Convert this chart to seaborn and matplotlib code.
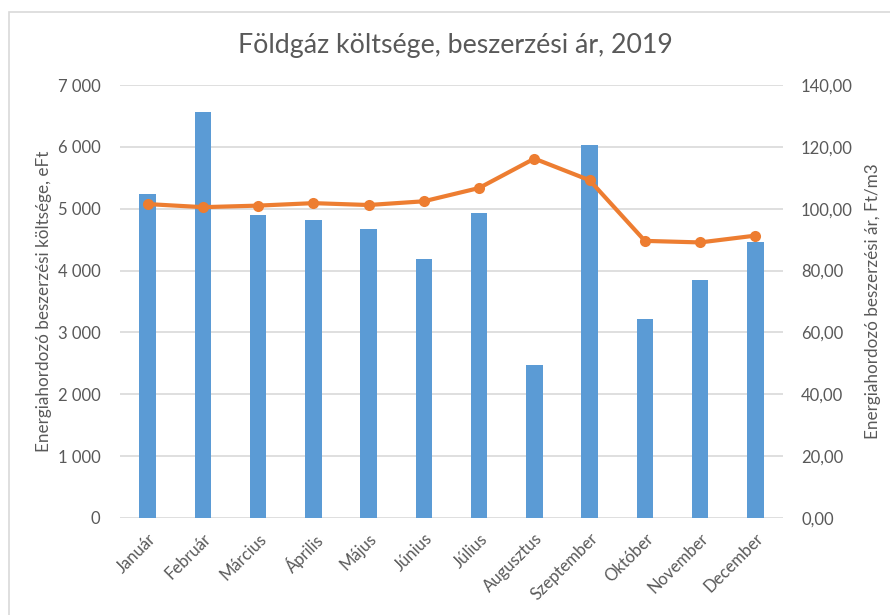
import matplotlib
matplotlib.use("Agg")
import matplotlib.pyplot as plt
from matplotlib.ticker import FuncFormatter, MultipleLocator
from matplotlib.patches import Rectangle
import seaborn as sns
import pandas as pd

months = ["Január", "Február", "Március", "Április", "Május", "Június",
          "Július", "Augusztus", "Szeptember", "Október", "November", "December"]
cost_eft = [5245, 6560, 4900, 4815, 4670, 4180, 4930, 2470, 6030, 3210, 3845, 4455]
price_ft_m3 = [101.5, 100.5, 101.0, 101.8, 101.2, 102.4, 106.7, 116.2, 109.2, 89.6, 89.1, 91.3]

title = "Földgáz költsége, beszerzési ár, 2019"
ylabel_left = "Energiahordozó beszerzési költsége, eFt"
ylabel_right = "Energiahordozó beszerzési ár, Ft/m3"

df = pd.DataFrame({"month": months, "cost": cost_eft, "price": price_ft_m3})

sns.set_theme(style="white")
plt.rcParams["font.family"] = ["Lato", "DejaVu Sans"]

TXT = "#595959"
GRID = "#D9D9D9"
BAR = "#5B9BD5"
LINE = "#ED7D31"

fig = plt.figure(figsize=(8.9, 6.15), dpi=100)
# plot area: x 120..783, y 85..518 in pixels
W, H = 890, 615
ax = fig.add_axes([120 / W, 1 - 518 / H, (783 - 120) / W, (518 - 85) / H])

# chart border
fig.patches.append(Rectangle((8.5 / W, -0.05), 1.2, 1 - 11.5 / H + 0.05, transform=fig.transFigure,
                             fill=False, edgecolor="#D9D9D9", linewidth=1.2))

sns.barplot(data=df, x="month", y="cost", color=BAR, width=0.30, ax=ax,
            saturation=1, edgecolor="none")
ax.set_ylim(0, 7000)
ax.set_xlim(-0.5, 11.5)
ax.yaxis.set_major_locator(MultipleLocator(1000))
ax.yaxis.set_major_formatter(FuncFormatter(lambda v, p: f"{int(v):,}".replace(",", " ")))
ax.grid(axis="y", color=GRID, linewidth=1.2)
ax.set_axisbelow(True)
for s in ax.spines.values():
    s.set_visible(False)

ax2 = ax.twinx()
sns.lineplot(data=df, x="month", y="price", color=LINE, linewidth=3, marker="o",
             markersize=8, markeredgewidth=0, ax=ax2, sort=False)
ax2.set_ylim(0, 140)
ax2.yaxis.set_major_locator(MultipleLocator(20))
ax2.yaxis.set_major_formatter(FuncFormatter(lambda v, p: f"{v:.2f}".replace(".", ",")))
for s in ax2.spines.values():
    s.set_visible(False)
ax2.grid(False)
ax.set_xlim(-0.5, 11.5)

ax.tick_params(axis="y", length=0, labelsize=12, labelcolor=TXT, pad=14)
ax2.tick_params(axis="y", length=0, labelsize=12, labelcolor=TXT, pad=13)
ax.tick_params(axis="x", length=0, labelsize=12, labelcolor=TXT, pad=9)
plt.setp(ax.get_xticklabels(), rotation=45, ha="right", rotation_mode="anchor")

ax.set_xlabel("")
ax.set_ylabel(ylabel_left, fontsize=12.3, color=TXT, labelpad=4)
ax2.set_ylabel(ylabel_right, fontsize=12.3, color=TXT, labelpad=9)

fig.text((237 + 673) / 2 / W, 1 - 45 / H, title, ha="center", va="center",
         fontsize=19.3, color=TXT)

fig.savefig("out.png", dpi=100, facecolor="white")
